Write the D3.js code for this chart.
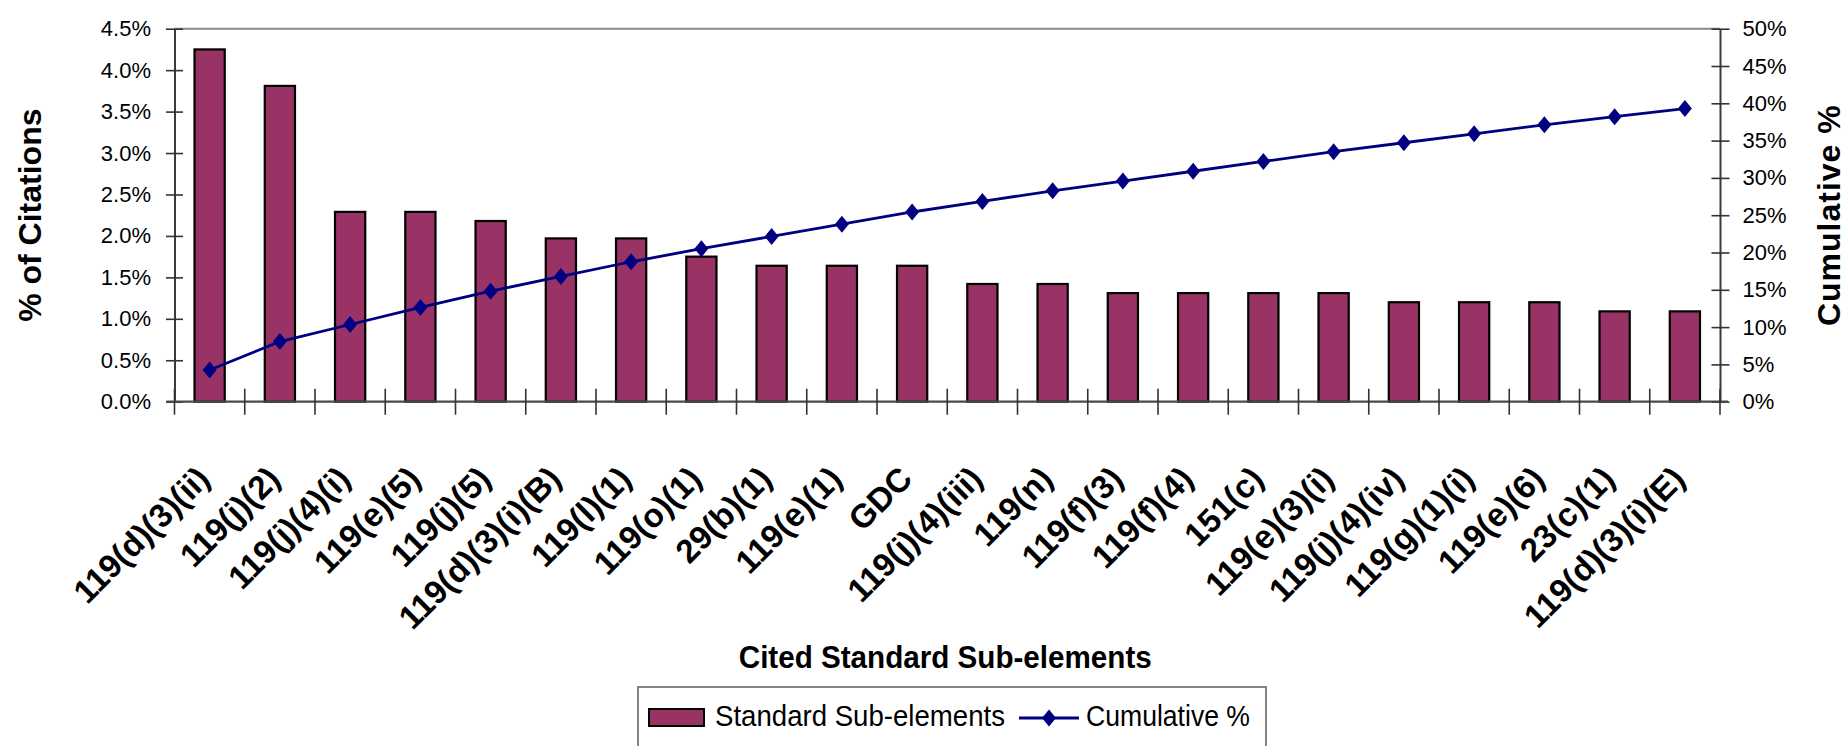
<!DOCTYPE html>
<html>
<head>
<meta charset="utf-8">
<script src="https://cdn.jsdelivr.net/npm/d3@7"></script>
<style>
  html, body { margin: 0; padding: 0; background: #ffffff; }
  svg { display: block; font-family: "Liberation Sans", Arial, sans-serif; }
</style>
</head>
<body>
<svg id="chart" width="1847" height="746"></svg>
<script>
// Cited standard sub-elements, in Pareto order
const categories = [
  "119(d)(3)(ii)", "119(j)(2)", "119(j)(4)(i)", "119(e)(5)", "119(j)(5)",
  "119(d)(3)(i)(B)", "119(l)(1)", "119(o)(1)", "29(b)(1)", "119(e)(1)", "GDC",
  "119(j)(4)(iii)", "119(n)", "119(f)(3)", "119(f)(4)", "151(c)", "119(e)(3)(i)",
  "119(j)(4)(iv)", "119(g)(1)(i)", "119(e)(6)", "23(c)(1)", "119(d)(3)(i)(E)"
];

// Share of all citations for each sub-element (%)
const citationPct = [
  4.25, 3.81, 2.29, 2.29, 2.18, 1.97, 1.97, 1.75, 1.64, 1.64, 1.64,
  1.42, 1.42, 1.31, 1.31, 1.31, 1.31, 1.20, 1.20, 1.20, 1.09, 1.09
];

// Running total of the citation share (%)
const cumulativePct = [
  4.25, 8.06, 10.35, 12.64, 14.82, 16.79, 18.76, 20.51, 22.15, 23.79, 25.43,
  26.85, 28.27, 29.58, 30.89, 32.20, 33.51, 34.71, 35.91, 37.11, 38.20, 39.29
];

// Axis ticks
const leftTicks = [0, 0.5, 1.0, 1.5, 2.0, 2.5, 3.0, 3.5, 4.0, 4.5];
const leftTickLabels = ["0.0%", "0.5%", "1.0%", "1.5%", "2.0%", "2.5%", "3.0%", "3.5%", "4.0%", "4.5%"];
const rightTicks = [0, 5, 10, 15, 20, 25, 30, 35, 40, 45, 50];
const rightTickLabels = ["0%", "5%", "10%", "15%", "20%", "25%", "30%", "35%", "40%", "45%", "50%"];

const seriesNames = ["Standard Sub-elements", "Cumulative %"];

// Layout
const plot = { left: 174.5, right: 1720, top: 28.7, bottom: 401.7 };
const BAR_COLOR = "#993366";
const LINE_COLOR = "#000080";

const svg = d3.select("#chart");

const x = d3.scaleBand().domain(categories).range([plot.left, plot.right]).padding(0);
const yL = d3.scaleLinear().domain([0, 4.5]).range([plot.bottom, plot.top]);
const yR = d3.scaleLinear().domain([0, 50]).range([plot.bottom, plot.top]);

const barW = x.bandwidth() * 0.43;

// Top border of the plot area
svg.append("line")
  .attr("x1", plot.left).attr("x2", plot.right)
  .attr("y1", plot.top).attr("y2", plot.top)
  .attr("stroke", "#8a8a8a").attr("stroke-width", 2);

// Bars
svg.append("g").selectAll("rect")
  .data(categories)
  .join("rect")
  .attr("x", (d) => x(d) + (x.bandwidth() - barW) / 2)
  .attr("y", (d, i) => yL(citationPct[i]))
  .attr("width", barW)
  .attr("height", (d, i) => yL(0) - yL(citationPct[i]))
  .attr("fill", BAR_COLOR)
  .attr("stroke", "#000")
  .attr("stroke-width", 2.2);

// Left axis
const axL = svg.append("g")
  .attr("transform", `translate(${plot.left},0)`)
  .call(d3.axisLeft(yL).tickValues(leftTicks)
    .tickFormat((d, i) => leftTickLabels[i])
    .tickSizeInner(8.5).tickSizeOuter(0).tickPadding(15));
axL.select(".domain").attr("stroke", "#3a3a3a").attr("stroke-width", 2);
axL.selectAll(".tick line").attr("x1", 8.5).attr("stroke", "#333").attr("stroke-width", 1.6);
axL.selectAll(".tick text")
  .attr("font-family", "Liberation Sans, Arial, sans-serif")
  .attr("font-size", 22).attr("fill", "#000");

// Right axis
const axR = svg.append("g")
  .attr("transform", `translate(${plot.right},0)`)
  .call(d3.axisRight(yR).tickValues(rightTicks)
    .tickFormat((d, i) => rightTickLabels[i])
    .tickSizeInner(9.5).tickSizeOuter(0).tickPadding(13));
axR.select(".domain").attr("stroke", "#3a3a3a").attr("stroke-width", 2);
axR.selectAll(".tick line").attr("x1", -8.5).attr("stroke", "#333").attr("stroke-width", 1.6);
axR.selectAll(".tick text")
  .attr("font-family", "Liberation Sans, Arial, sans-serif")
  .attr("font-size", 22).attr("fill", "#000");

// Category axis: baseline and boundary ticks crossing it
svg.append("line")
  .attr("x1", plot.left - 8).attr("x2", plot.right + 8)
  .attr("y1", plot.bottom).attr("y2", plot.bottom)
  .attr("stroke", "#4a4a4a").attr("stroke-width", 2.2);

const boundaries = categories.map((d) => x(d)).concat([x.range()[1]]);
svg.append("g").selectAll("line")
  .data(boundaries)
  .join("line")
  .attr("x1", (d) => d).attr("x2", (d) => d)
  .attr("y1", plot.bottom - 13).attr("y2", plot.bottom + 13)
  .attr("stroke", "#333").attr("stroke-width", 1.6);

// Category labels, rotated 45 degrees
svg.append("g").selectAll("text")
  .data(categories)
  .join("text")
  .attr("transform", (d) => `translate(${x(d) + x.bandwidth() / 2 + 2},${plot.bottom + 79}) rotate(-45)`)
  .attr("text-anchor", "end")
  .attr("font-size", 33)
  .attr("font-weight", "bold")
  .attr("fill", "#000")
  .text((d) => d);

// Cumulative line with diamond markers
const line = d3.line()
  .x((d, i) => x(categories[i]) + x.bandwidth() / 2)
  .y((d) => yR(d));
svg.append("path")
  .datum(cumulativePct)
  .attr("d", line)
  .attr("fill", "none")
  .attr("stroke", LINE_COLOR)
  .attr("stroke-width", 2.8);

const diamond = "M0,-8.5L7,0L0,8.5L-7,0Z";
svg.append("g").selectAll("path")
  .data(cumulativePct)
  .join("path")
  .attr("transform", (d, i) => `translate(${x(categories[i]) + x.bandwidth() / 2},${yR(d)})`)
  .attr("d", diamond)
  .attr("fill", LINE_COLOR);

// Axis titles
svg.append("text")
  .attr("transform", `translate(41,${(plot.top + plot.bottom) / 2}) rotate(-90)`)
  .attr("text-anchor", "middle")
  .attr("font-size", 32).attr("font-weight", "bold")
  .text("% of Citations");

svg.append("text")
  .attr("transform", `translate(1840,${(plot.top + plot.bottom) / 2}) rotate(-90)`)
  .attr("text-anchor", "middle")
  .attr("font-size", 32).attr("font-weight", "bold")
  .attr("letter-spacing", 1)
  .text("Cumulative %");

svg.append("text")
  .attr("x", (plot.left + plot.right) / 2 - 2)
  .attr("y", 668)
  .attr("text-anchor", "middle")
  .attr("font-size", 32).attr("font-weight", "bold")
  .attr("textLength", 413).attr("lengthAdjust", "spacingAndGlyphs")
  .text("Cited Standard Sub-elements");

// Legend
const legend = svg.append("g");
legend.append("rect")
  .attr("x", 638).attr("y", 687)
  .attr("width", 628).attr("height", 80)
  .attr("fill", "#fff").attr("stroke", "#666").attr("stroke-width", 1.6);

legend.append("rect")
  .attr("x", 649).attr("y", 709)
  .attr("width", 55).attr("height", 17)
  .attr("fill", BAR_COLOR).attr("stroke", "#000").attr("stroke-width", 2);
legend.append("text")
  .attr("x", 715).attr("y", 726)
  .attr("font-size", 30)
  .attr("textLength", 290).attr("lengthAdjust", "spacingAndGlyphs")
  .text(seriesNames[0]);

legend.append("line")
  .attr("x1", 1019).attr("x2", 1079)
  .attr("y1", 718).attr("y2", 718)
  .attr("stroke", LINE_COLOR).attr("stroke-width", 2.8);
legend.append("path")
  .attr("transform", "translate(1049,718)")
  .attr("d", diamond)
  .attr("fill", LINE_COLOR);
legend.append("text")
  .attr("x", 1086).attr("y", 726)
  .attr("font-size", 30)
  .attr("textLength", 164).attr("lengthAdjust", "spacingAndGlyphs")
  .text(seriesNames[1]);
</script>
</body>
</html>
